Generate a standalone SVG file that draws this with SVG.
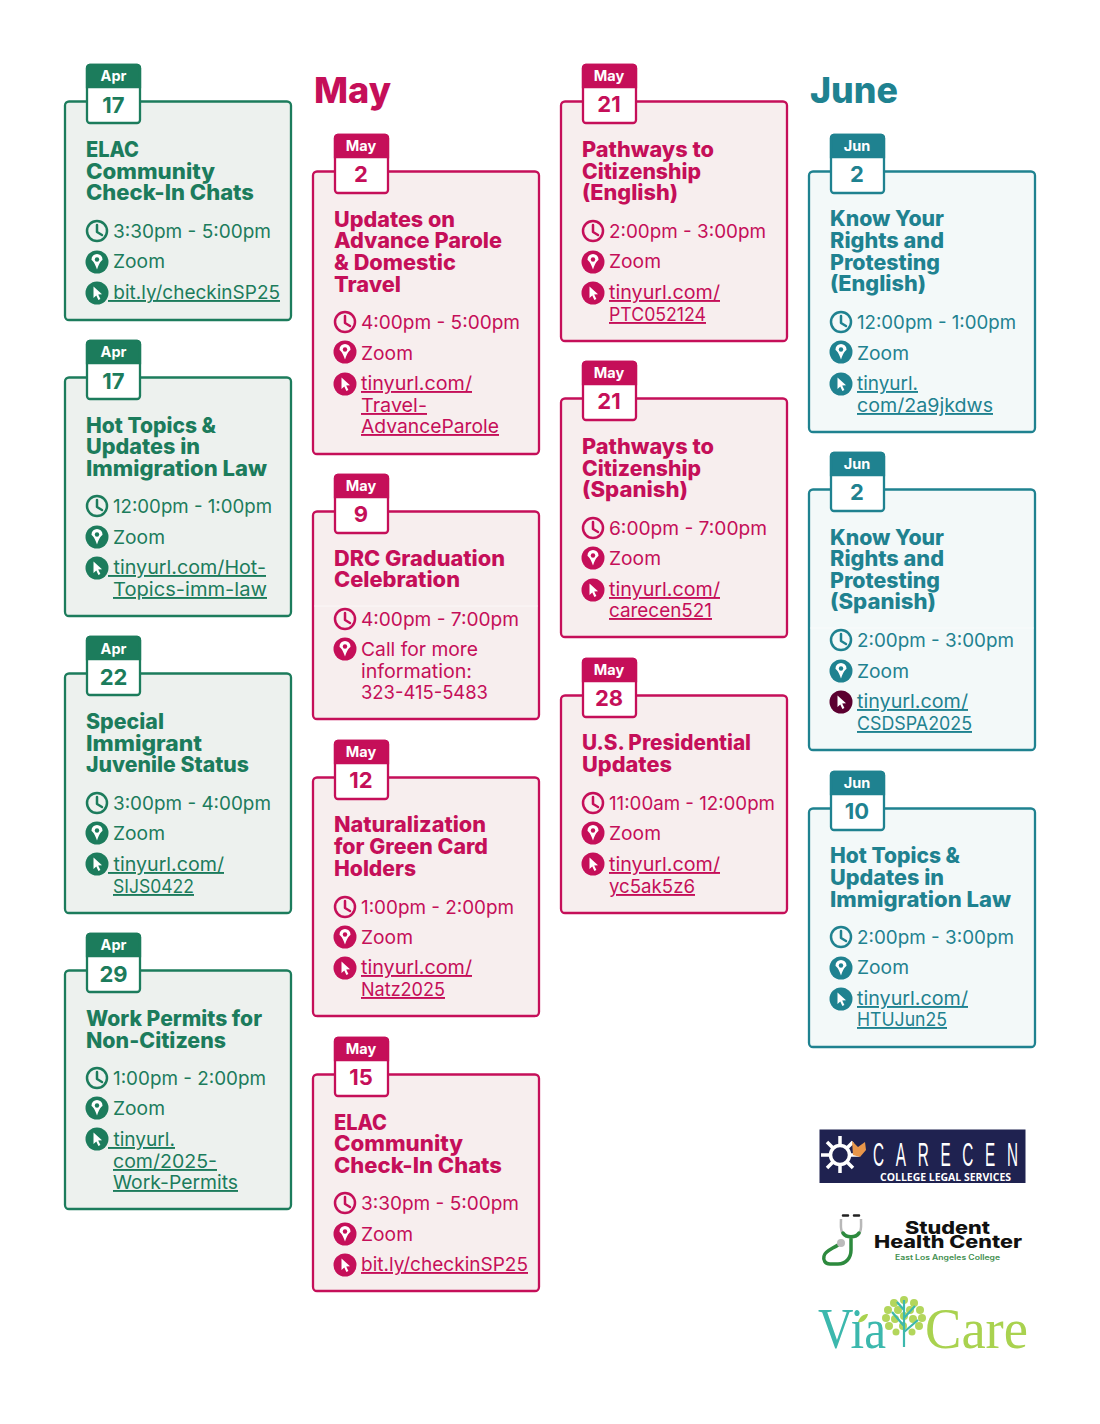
<svg xmlns="http://www.w3.org/2000/svg" width="1100" height="1424" viewBox="0 0 1100 1424">
<style>
text{font-family:Inter,"Noto Sans","Liberation Sans",sans-serif}
.green{color:#1c7c5c}.pink{color:#c50f59}.teal{color:#1f8290}
.card text{fill:currentColor}
.c{stroke:currentColor;stroke-width:2.3}
.green .c{fill:#edf1ee}.pink .c{fill:#f7eeee}.teal .c{fill:#f3f9f9}
.tab{fill:#fff;stroke:currentColor;stroke-width:2.3}
.hd{fill:currentColor;stroke:currentColor;stroke-width:2.3}
.t{font-size:21px;font-weight:800}
.b{font-size:19px;font-weight:400}
.l{font-size:19px;font-weight:400;text-decoration:underline;white-space:pre}
.card text.m{font-size:14.500px;font-weight:700;fill:#fff;text-anchor:middle}
.d{font-size:22px;font-weight:700;text-anchor:middle}
.h{font-size:36px;font-weight:800}
.sep{stroke:#fff;stroke-width:1;opacity:.6}
.lg{font-family:"Liberation Sans",sans-serif}
.se{font-family:"Liberation Serif",serif}
</style>
<defs>
<g id="clock"><circle r="10" fill="none" stroke="currentColor" stroke-width="2.500"/><path d="M0-6V1L5 4" fill="none" stroke="currentColor" stroke-width="2.500" stroke-linecap="round" stroke-linejoin="round"/></g>
<g id="pin"><circle r="11.500" fill="currentColor"/><path d="M0 7.500C-3-2-5.500-1-5.500-2.500A5.500 5.500 0 0 1 5.500-2.500C5.500-1 3-2 0 7.500Z" fill="#fff"/><circle cy="-2.500" r="2.200" fill="currentColor"/></g>
<g id="cur"><circle r="11.500" fill="currentColor"/><path d="M-3.500-6.500L5 1.200 1.200 1.500 3.400 6 1.400 7-.7 2.400-3.500 5Z" fill="#fff"/></g>
</defs>

<g id="heading-may"><text class="h" x="314" y="103" fill="#c50f59" textLength="77" lengthAdjust="spacingAndGlyphs">May</text></g>
<g id="heading-june"><text class="h" x="810" y="103" fill="#1f8290" textLength="88" lengthAdjust="spacingAndGlyphs">June</text></g>

<g id="apr17a" class="card green"><rect class="c" x="65" y="101.500" width="226" height="218.500" rx="4"/><rect class="tab" x="87" y="65" width="53" height="58" rx="3"/><path class="hd" d="M87 87V68a3 3 0 0 1 3-3h47a3 3 0 0 1 3 3V87Z"/><text class="m" x="113.500" y="81">Apr</text><text class="d" x="113.500" y="113">17</text>
<text class="t" x="86" y="157" textLength="53" lengthAdjust="spacingAndGlyphs">ELAC</text><text class="t" x="86" y="179" textLength="129" lengthAdjust="spacingAndGlyphs">Community</text><text class="t" x="86" y="200" textLength="168" lengthAdjust="spacingAndGlyphs">Check-In Chats</text>
<use href="#clock" x="97" y="231"/><use href="#pin" x="97" y="262"/><use href="#cur" x="97" y="293"/>
<text class="b" x="113" y="238" textLength="158" lengthAdjust="spacingAndGlyphs">3:30pm - 5:00pm</text><text class="b" x="113" y="268" textLength="52" lengthAdjust="spacingAndGlyphs">Zoom</text><text class="l" x="108" y="299" textLength="172" lengthAdjust="spacingAndGlyphs"> bit.ly/checkinSP25</text></g>

<g id="apr17b" class="card green"><rect class="c" x="65" y="377.500" width="226" height="238.500" rx="4"/><rect class="tab" x="87" y="341" width="53" height="58" rx="3"/><path class="hd" d="M87 363V344a3 3 0 0 1 3-3h47a3 3 0 0 1 3 3V363Z"/><text class="m" x="113.500" y="357">Apr</text><text class="d" x="113.500" y="389">17</text>
<text class="t" x="86" y="433" textLength="130" lengthAdjust="spacingAndGlyphs">Hot Topics &amp;</text><text class="t" x="86" y="454" textLength="114" lengthAdjust="spacingAndGlyphs">Updates in</text><text class="t" x="86" y="476" textLength="181" lengthAdjust="spacingAndGlyphs">Immigration Law</text>
<use href="#clock" x="97" y="506"/><use href="#pin" x="97" y="537"/><use href="#cur" x="97" y="568"/>
<text class="b" x="113" y="513" textLength="159" lengthAdjust="spacingAndGlyphs">12:00pm - 1:00pm</text><text class="b" x="113" y="544" textLength="52" lengthAdjust="spacingAndGlyphs">Zoom</text><text class="l" x="108" y="574" textLength="158" lengthAdjust="spacingAndGlyphs"> tinyurl.com/Hot-</text><text class="l" x="113" y="596" textLength="154" lengthAdjust="spacingAndGlyphs">Topics-imm-law</text></g>

<g id="apr22" class="card green"><rect class="c" x="65" y="673.500" width="226" height="239.500" rx="4"/><rect class="tab" x="87" y="637" width="53" height="58" rx="3"/><path class="hd" d="M87 659V640a3 3 0 0 1 3-3h47a3 3 0 0 1 3 3V659Z"/><text class="m" x="113.500" y="654">Apr</text><text class="d" x="113.500" y="685">22</text>
<text class="t" x="86" y="729" textLength="78" lengthAdjust="spacingAndGlyphs">Special</text><text class="t" x="86" y="751" textLength="116" lengthAdjust="spacingAndGlyphs">Immigrant</text><text class="t" x="86" y="772" textLength="163" lengthAdjust="spacingAndGlyphs">Juvenile Status</text>
<use href="#clock" x="97" y="803"/><use href="#pin" x="97" y="833"/><use href="#cur" x="97" y="864"/>
<text class="b" x="113" y="810" textLength="158" lengthAdjust="spacingAndGlyphs">3:00pm - 4:00pm</text><text class="b" x="113" y="840" textLength="52" lengthAdjust="spacingAndGlyphs">Zoom</text><text class="l" x="108" y="871" textLength="116" lengthAdjust="spacingAndGlyphs"> tinyurl.com/</text><text class="l" x="113" y="893" textLength="81" lengthAdjust="spacingAndGlyphs">SIJS0422</text></g>

<g id="apr29" class="card green"><rect class="c" x="65" y="970.500" width="226" height="238.500" rx="4"/><rect class="tab" x="87" y="934" width="53" height="58" rx="3"/><path class="hd" d="M87 956V937a3 3 0 0 1 3-3h47a3 3 0 0 1 3 3V956Z"/><text class="m" x="113.500" y="950">Apr</text><text class="d" x="113.500" y="982">29</text>
<text class="t" x="86" y="1026" textLength="176" lengthAdjust="spacingAndGlyphs">Work Permits for</text><text class="t" x="86" y="1048" textLength="140" lengthAdjust="spacingAndGlyphs">Non-Citizens</text>
<use href="#clock" x="97" y="1078"/><use href="#pin" x="97" y="1108"/><use href="#cur" x="97" y="1139"/>
<text class="b" x="113" y="1085" textLength="153" lengthAdjust="spacingAndGlyphs">1:00pm - 2:00pm</text><text class="b" x="113" y="1115" textLength="52" lengthAdjust="spacingAndGlyphs">Zoom</text><text class="l" x="108" y="1146" textLength="67" lengthAdjust="spacingAndGlyphs"> tinyurl.</text><text class="l" x="113" y="1168" textLength="104" lengthAdjust="spacingAndGlyphs">com/2025-</text><text class="l" x="113" y="1189" textLength="125" lengthAdjust="spacingAndGlyphs">Work-Permits</text></g>

<g id="may2" class="card pink"><rect class="c" x="313" y="171.500" width="226" height="282.500" rx="4"/><rect class="tab" x="335" y="135" width="53" height="58" rx="3"/><path class="hd" d="M335 157V138a3 3 0 0 1 3-3h47a3 3 0 0 1 3 3V157Z"/><text class="m" x="361" y="151">May</text><text class="d" x="361" y="182">2</text>
<text class="t" x="334" y="227" textLength="121" lengthAdjust="spacingAndGlyphs">Updates on</text><text class="t" x="334" y="248" textLength="168" lengthAdjust="spacingAndGlyphs">Advance Parole</text><text class="t" x="334" y="270" textLength="122" lengthAdjust="spacingAndGlyphs">&amp; Domestic</text><text class="t" x="334" y="292" textLength="67" lengthAdjust="spacingAndGlyphs">Travel</text>
<use href="#clock" x="345" y="322"/><use href="#pin" x="345" y="352"/><use href="#cur" x="345" y="384"/>
<text class="b" x="361" y="329" textLength="159" lengthAdjust="spacingAndGlyphs">4:00pm - 5:00pm</text><text class="b" x="361" y="360" textLength="52" lengthAdjust="spacingAndGlyphs">Zoom</text><text class="l" x="361" y="390" textLength="111" lengthAdjust="spacingAndGlyphs">tinyurl.com/</text><text class="l" x="361" y="412" textLength="66" lengthAdjust="spacingAndGlyphs">Travel-</text><text class="l" x="361" y="433" textLength="138" lengthAdjust="spacingAndGlyphs">AdvanceParole</text></g>

<g id="may9" class="card pink"><rect class="c" x="313" y="511.500" width="226" height="207.500" rx="4"/><line class="sep" x1="314" y1="606" x2="538" y2="606"/><rect class="tab" x="335" y="475" width="53" height="58" rx="3"/><path class="hd" d="M335 497V478a3 3 0 0 1 3-3h47a3 3 0 0 1 3 3V497Z"/><text class="m" x="361" y="491">May</text><text class="d" x="361" y="522">9</text>
<text class="t" x="334" y="566" textLength="171" lengthAdjust="spacingAndGlyphs">DRC Graduation</text><text class="t" x="334" y="587" textLength="126" lengthAdjust="spacingAndGlyphs">Celebration</text>
<use href="#clock" x="345" y="619"/><use href="#pin" x="345" y="649"/>
<text class="b" x="361" y="626" textLength="158" lengthAdjust="spacingAndGlyphs">4:00pm - 7:00pm</text><text class="b" x="361" y="656" textLength="117" lengthAdjust="spacingAndGlyphs">Call for more</text><text class="b" x="361" y="678" textLength="111" lengthAdjust="spacingAndGlyphs">information:</text><text class="b" x="361" y="699" textLength="127" lengthAdjust="spacingAndGlyphs">323-415-5483</text></g>

<g id="may12" class="card pink"><rect class="c" x="313" y="777.500" width="226" height="238.500" rx="4"/><rect class="tab" x="335" y="741" width="53" height="58" rx="3"/><path class="hd" d="M335 763V744a3 3 0 0 1 3-3h47a3 3 0 0 1 3 3V763Z"/><text class="m" x="361" y="757">May</text><text class="d" x="361" y="788">12</text>
<text class="t" x="334" y="832" textLength="152" lengthAdjust="spacingAndGlyphs">Naturalization</text><text class="t" x="334" y="854" textLength="154" lengthAdjust="spacingAndGlyphs">for Green Card</text><text class="t" x="334" y="876" textLength="82" lengthAdjust="spacingAndGlyphs">Holders</text>
<use href="#clock" x="345" y="907"/><use href="#pin" x="345" y="937"/><use href="#cur" x="345" y="968"/>
<text class="b" x="361" y="914" textLength="153" lengthAdjust="spacingAndGlyphs">1:00pm - 2:00pm</text><text class="b" x="361" y="944" textLength="52" lengthAdjust="spacingAndGlyphs">Zoom</text><text class="l" x="361" y="974" textLength="111" lengthAdjust="spacingAndGlyphs">tinyurl.com/</text><text class="l" x="361" y="996" textLength="84" lengthAdjust="spacingAndGlyphs">Natz2025</text></g>

<g id="may15" class="card pink"><rect class="c" x="313" y="1074.500" width="226" height="216.500" rx="4"/><rect class="tab" x="335" y="1038" width="53" height="58" rx="3"/><path class="hd" d="M335 1060V1041a3 3 0 0 1 3-3h47a3 3 0 0 1 3 3V1060Z"/><text class="m" x="361" y="1054">May</text><text class="d" x="361" y="1085">15</text>
<text class="t" x="334" y="1130" textLength="53" lengthAdjust="spacingAndGlyphs">ELAC</text><text class="t" x="334" y="1151" textLength="129" lengthAdjust="spacingAndGlyphs">Community</text><text class="t" x="334" y="1173" textLength="168" lengthAdjust="spacingAndGlyphs">Check-In Chats</text>
<use href="#clock" x="345" y="1203"/><use href="#pin" x="345" y="1234"/><use href="#cur" x="345" y="1265"/>
<text class="b" x="361" y="1210" textLength="158" lengthAdjust="spacingAndGlyphs">3:30pm - 5:00pm</text><text class="b" x="361" y="1241" textLength="52" lengthAdjust="spacingAndGlyphs">Zoom</text><text class="l" x="361" y="1271" textLength="167" lengthAdjust="spacingAndGlyphs">bit.ly/checkinSP25</text></g>

<g id="may21a" class="card pink"><rect class="c" x="561" y="101.500" width="226" height="239.500" rx="4"/><rect class="tab" x="583" y="65" width="53" height="58" rx="3"/><path class="hd" d="M583 87V68a3 3 0 0 1 3-3h47a3 3 0 0 1 3 3V87Z"/><text class="m" x="609" y="81">May</text><text class="d" x="609" y="112">21</text>
<text class="t" x="582" y="157" textLength="132" lengthAdjust="spacingAndGlyphs">Pathways to</text><text class="t" x="582" y="179" textLength="119" lengthAdjust="spacingAndGlyphs">Citizenship</text><text class="t" x="582" y="200" textLength="96" lengthAdjust="spacingAndGlyphs">(English)</text>
<use href="#clock" x="593" y="231"/><use href="#pin" x="593" y="262"/><use href="#cur" x="593" y="293"/>
<text class="b" x="609" y="238" textLength="157" lengthAdjust="spacingAndGlyphs">2:00pm - 3:00pm</text><text class="b" x="609" y="268" textLength="52" lengthAdjust="spacingAndGlyphs">Zoom</text><text class="l" x="609" y="299" textLength="111" lengthAdjust="spacingAndGlyphs">tinyurl.com/</text><text class="l" x="609" y="321" textLength="97" lengthAdjust="spacingAndGlyphs">PTC052124</text></g>

<g id="may21b" class="card pink"><rect class="c" x="561" y="398.500" width="226" height="238.500" rx="4"/><rect class="tab" x="583" y="362" width="53" height="58" rx="3"/><path class="hd" d="M583 384V365a3 3 0 0 1 3-3h47a3 3 0 0 1 3 3V384Z"/><text class="m" x="609" y="378">May</text><text class="d" x="609" y="409">21</text>
<text class="t" x="582" y="454" textLength="132" lengthAdjust="spacingAndGlyphs">Pathways to</text><text class="t" x="582" y="476" textLength="119" lengthAdjust="spacingAndGlyphs">Citizenship</text><text class="t" x="582" y="497" textLength="106" lengthAdjust="spacingAndGlyphs">(Spanish)</text>
<use href="#clock" x="593" y="528"/><use href="#pin" x="593" y="558"/><use href="#cur" x="593" y="590"/>
<text class="b" x="609" y="535" textLength="158" lengthAdjust="spacingAndGlyphs">6:00pm - 7:00pm</text><text class="b" x="609" y="565" textLength="52" lengthAdjust="spacingAndGlyphs">Zoom</text><text class="l" x="609" y="596" textLength="111" lengthAdjust="spacingAndGlyphs">tinyurl.com/</text><text class="l" x="609" y="617" textLength="103" lengthAdjust="spacingAndGlyphs">carecen521</text></g>

<g id="may28" class="card pink"><rect class="c" x="561" y="695.500" width="226" height="217.500" rx="4"/><rect class="tab" x="583" y="659" width="53" height="58" rx="3"/><path class="hd" d="M583 681V662a3 3 0 0 1 3-3h47a3 3 0 0 1 3 3V681Z"/><text class="m" x="609" y="675">May</text><text class="d" x="609" y="706">28</text>
<text class="t" x="582" y="750" textLength="169" lengthAdjust="spacingAndGlyphs">U.S. Presidential</text><text class="t" x="582" y="772" textLength="90" lengthAdjust="spacingAndGlyphs">Updates</text>
<use href="#clock" x="593" y="803"/><use href="#pin" x="593" y="833"/><use href="#cur" x="593" y="864"/>
<text class="b" x="609" y="810" textLength="166" lengthAdjust="spacingAndGlyphs">11:00am - 12:00pm</text><text class="b" x="609" y="840" textLength="52" lengthAdjust="spacingAndGlyphs">Zoom</text><text class="l" x="609" y="871" textLength="111" lengthAdjust="spacingAndGlyphs">tinyurl.com/</text><text class="l" x="609" y="893" textLength="86" lengthAdjust="spacingAndGlyphs">yc5ak5z6</text></g>

<g id="jun2a" class="card teal"><rect class="c" x="809" y="171.500" width="226" height="260.500" rx="4"/><rect class="tab" x="831" y="135" width="53" height="58" rx="3"/><path class="hd" d="M831 157V138a3 3 0 0 1 3-3h47a3 3 0 0 1 3 3V157Z"/><text class="m" x="857" y="151">Jun</text><text class="d" x="857" y="182">2</text>
<text class="t" x="830" y="226" textLength="114" lengthAdjust="spacingAndGlyphs">Know Your</text><text class="t" x="830" y="248" textLength="114" lengthAdjust="spacingAndGlyphs">Rights and</text><text class="t" x="830" y="270" textLength="110" lengthAdjust="spacingAndGlyphs">Protesting</text><text class="t" x="830" y="291" textLength="96" lengthAdjust="spacingAndGlyphs">(English)</text>
<use href="#clock" x="841" y="322"/><use href="#pin" x="841" y="352"/><use href="#cur" x="841" y="384"/>
<text class="b" x="857" y="329" textLength="159" lengthAdjust="spacingAndGlyphs">12:00pm - 1:00pm</text><text class="b" x="857" y="360" textLength="52" lengthAdjust="spacingAndGlyphs">Zoom</text><text class="l" x="857" y="390" textLength="61" lengthAdjust="spacingAndGlyphs">tinyurl.</text><text class="l" x="857" y="412" textLength="136" lengthAdjust="spacingAndGlyphs">com/2a9jkdws</text></g>

<g id="jun2b" class="card teal"><rect class="c" x="809" y="489.500" width="226" height="260.500" rx="4"/><line class="sep" x1="810" y1="628" x2="1034" y2="628"/><rect class="tab" x="831" y="453" width="53" height="58" rx="3"/><path class="hd" d="M831 475V456a3 3 0 0 1 3-3h47a3 3 0 0 1 3 3V475Z"/><text class="m" x="857" y="469">Jun</text><text class="d" x="857" y="500">2</text>
<text class="t" x="830" y="545" textLength="114" lengthAdjust="spacingAndGlyphs">Know Your</text><text class="t" x="830" y="566" textLength="114" lengthAdjust="spacingAndGlyphs">Rights and</text><text class="t" x="830" y="588" textLength="110" lengthAdjust="spacingAndGlyphs">Protesting</text><text class="t" x="830" y="609" textLength="106" lengthAdjust="spacingAndGlyphs">(Spanish)</text>
<use href="#clock" x="841" y="640"/><use href="#pin" x="841" y="671"/><use href="#cur" x="841" y="702" style="color:#5c0030"/>
<text class="b" x="857" y="647" textLength="157" lengthAdjust="spacingAndGlyphs">2:00pm - 3:00pm</text><text class="b" x="857" y="678" textLength="52" lengthAdjust="spacingAndGlyphs">Zoom</text><text class="l" x="857" y="708" textLength="111" lengthAdjust="spacingAndGlyphs">tinyurl.com/</text><text class="l" x="857" y="730" textLength="115" lengthAdjust="spacingAndGlyphs">CSDSPA2025</text></g>

<g id="jun10" class="card teal"><rect class="c" x="809" y="808.500" width="226" height="238.500" rx="4"/><rect class="tab" x="831" y="772" width="53" height="58" rx="3"/><path class="hd" d="M831 794V775a3 3 0 0 1 3-3h47a3 3 0 0 1 3 3V794Z"/><text class="m" x="857" y="788">Jun</text><text class="d" x="857" y="819">10</text>
<text class="t" x="830" y="863" textLength="130" lengthAdjust="spacingAndGlyphs">Hot Topics &amp;</text><text class="t" x="830" y="885" textLength="114" lengthAdjust="spacingAndGlyphs">Updates in</text><text class="t" x="830" y="907" textLength="181" lengthAdjust="spacingAndGlyphs">Immigration Law</text>
<use href="#clock" x="841" y="937"/><use href="#pin" x="841" y="968"/><use href="#cur" x="841" y="999"/>
<text class="b" x="857" y="944" textLength="157" lengthAdjust="spacingAndGlyphs">2:00pm - 3:00pm</text><text class="b" x="857" y="974" textLength="52" lengthAdjust="spacingAndGlyphs">Zoom</text><text class="l" x="857" y="1005" textLength="111" lengthAdjust="spacingAndGlyphs">tinyurl.com/</text><text class="l" x="857" y="1026" textLength="90" lengthAdjust="spacingAndGlyphs">HTUJun25</text></g>

<g id="logo-carecen">
<rect x="819.500" y="1129.500" width="206" height="53.500" fill="#1f2250"/>
<g stroke="#fff" stroke-width="3.500" fill="none"><circle cx="840" cy="1155" r="9.500"/><path d="M840 1136V1145M840 1165V1173M821 1155H830M850 1155H859M827 1142L833 1148M847 1162L853 1168M853 1142L847 1148M833 1162L827 1168"/></g>
<path d="M852 1141L858 1147 865 1142 866 1150 860 1157 853 1155Z" fill="#e8964a"/>
<text class="lg" transform="translate(873 1166) scale(.45 1)" fill="#fff" font-size="34" letter-spacing="26">CARECEN</text>
<text x="880" y="1181" fill="#fff" font-size="10" font-weight="700" style="font-family:'Open Sans',sans-serif" textLength="131" lengthAdjust="spacingAndGlyphs">COLLEGE LEGAL SERVICES</text>
</g>

<g id="logo-shc">
<path d="M841 1219C841 1226 840 1230 843 1234 846 1238 856 1238 859 1234 862 1230 861 1226 861 1219" fill="none" stroke="#b8b8b8" stroke-width="2.500"/>
<path d="M843 1233C846 1238 856 1238 859 1233M851 1238V1250C851 1258 846 1264 838 1264H830C825 1264 823 1260 824 1256 825 1251 832 1249 838 1245" fill="none" stroke="#2d8a3e" stroke-width="3.500" stroke-linecap="round"/>
<path d="M843 1215.500H848M854 1215.500H859" stroke="#222" stroke-width="2.500" stroke-linecap="round"/>
<circle cx="841" cy="1243" r="4" fill="#bbb"/>
<text x="947.500" y="1234" text-anchor="middle" font-size="17" font-weight="800" fill="#111" textLength="85" lengthAdjust="spacingAndGlyphs">Student</text>
<text x="948" y="1248" text-anchor="middle" font-size="17" font-weight="800" fill="#111" textLength="148" lengthAdjust="spacingAndGlyphs">Health Center</text>
<text x="947.500" y="1260" text-anchor="middle" font-size="7" font-weight="600" fill="#3f8f4f" textLength="105" lengthAdjust="spacingAndGlyphs">East Los Angeles College</text>
</g>

<g id="logo-viacare">
<text class="se" x="818" y="1348" font-size="56" fill="#3cb8ad" textLength="68" lengthAdjust="spacingAndGlyphs">Via</text>
<text class="se" x="925" y="1348" font-size="56" fill="#a9d24f" textLength="103" lengthAdjust="spacingAndGlyphs">Care</text>
<path d="M858 1322C860 1316 864 1314 868 1314 867 1319 863 1323 858 1322Z" fill="#a9d24f"/>
<g fill="#b3d65c"><circle cx="904" cy="1300" r="4"/><circle cx="894" cy="1303" r="4"/><circle cx="914" cy="1303" r="4"/><circle cx="888" cy="1310" r="4"/><circle cx="920" cy="1310" r="4"/><circle cx="886" cy="1318" r="4"/><circle cx="922" cy="1318" r="4"/><circle cx="889" cy="1326" r="4"/><circle cx="919" cy="1326" r="4"/><circle cx="896" cy="1332" r="3.500"/><circle cx="912" cy="1332" r="3.500"/><circle cx="898" cy="1310" r="4"/><circle cx="910" cy="1310" r="4"/><circle cx="895" cy="1319" r="4"/><circle cx="913" cy="1319" r="4"/><circle cx="904" cy="1316" r="4"/><circle cx="903" cy="1326" r="4"/></g>
<path d="M904 1347V1300M904 1326L892 1312M904 1318L915 1306M904 1332L918 1320M904 1310L897 1302" stroke="#3cb8ad" stroke-width="2.200" fill="none"/>
</g>
</svg>
